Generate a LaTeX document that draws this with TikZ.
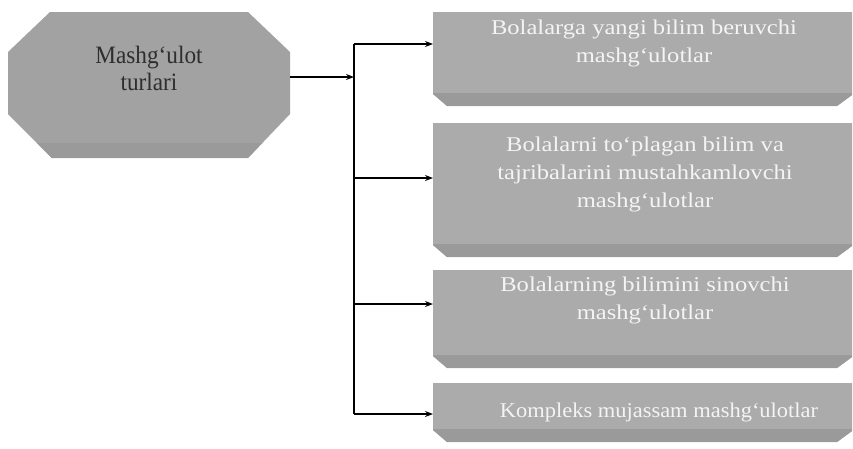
\documentclass[tikz,border=0pt]{standalone}
\usepackage{fontspec}
\setmainfont{Liberation Serif}
\newfontfamily\boxfont[FakeStretch=1.17]{Liberation Serif}
\newfontfamily\narrowfont[FakeStretch=1.07]{Liberation Serif}
\newfontfamily\octfont[FakeStretch=0.93]{Liberation Serif}
\usetikzlibrary{arrows.meta}
\definecolor{octfill}{HTML}{A2A2A2}
\definecolor{boxfill}{HTML}{ABABAB}
\definecolor{bandfill}{HTML}{9A9A9A}
\definecolor{octtext}{HTML}{2E2E2E}
\definecolor{boxtext}{HTML}{F4F4F4}
\tikzset{
  anchorbox/.style={rectangle, inner sep=0pt, outer sep=0pt, draw=none},
  octshape/.style={fill=octfill,
    path picture={\fill[bandfill] (path picture bounding box.south west) rectangle ([yshift=15pt]path picture bounding box.south east);}},
  itemshape/.style={fill=boxfill,
    path picture={\fill[bandfill] (path picture bounding box.south west) rectangle ([yshift=13pt]path picture bounding box.south east);}},
  octlabel/.style={font=\octfont\fontsize{25}{27}\selectfont, text=octtext, align=center, inner sep=0pt},
  itemlabel/.style={font=\boxfont\fontsize{21}{28}\selectfont, text=boxtext, align=center, inner sep=0pt},
  arr/.style={line width=1.2pt, -{Stealth[length=8pt,width=6pt]}},
  trunk/.style={line width=1.2pt}
}
% octagon over a named rectangle node
\newcommand\octpath[1]{%
  \path[octshape] ([xshift=42pt]#1.north west) -- ([xshift=-42pt]#1.north east)
    -- ([yshift=-40pt]#1.north east) -- ([yshift=44pt]#1.south east)
    -- ([xshift=-42pt]#1.south east) -- ([xshift=44pt]#1.south west)
    -- ([yshift=44pt]#1.south west) -- ([yshift=-40pt]#1.north west) -- cycle;}
% box with chamfered bottom corners over a named rectangle node
\newcommand\itempath[1]{%
  \path[itemshape] (#1.north west) -- (#1.north east)
    -- ([yshift=11pt]#1.south east) -- ([xshift=-15pt]#1.south east)
    -- ([xshift=14pt]#1.south west) -- ([yshift=12pt]#1.south west) -- cycle;}
\begin{document}
\begin{tikzpicture}[x=1pt,y=-1pt]
\useasboundingbox (0,0) rectangle (853,448);
\fill[white] (0,0) rectangle (853,448);
% anchor nodes for the shapes
\node[anchorbox, minimum width=282pt, minimum height=146pt] (oct) at (149,85) {};
\node[anchorbox, minimum width=419pt, minimum height=94pt] (b1) at (642.5,59) {};
\node[anchorbox, minimum width=419pt, minimum height=134pt] (b2) at (642.5,190) {};
\node[anchorbox, minimum width=419pt, minimum height=98pt] (b3) at (642.5,319) {};
\node[anchorbox, minimum width=419pt, minimum height=59pt] (b4) at (642.5,412.5) {};
\octpath{oct}
\itempath{b1}
\itempath{b2}
\itempath{b3}
\itempath{b4}
% texts
\node[octlabel] (toct) at (149,68) {Mashg‘ulot\\turlari};
\node[itemlabel] (tb1) at (644,43) {Bolalarga yangi bilim beruvchi\\mashg‘ulotlar};
\node[itemlabel] (tb2) at (645,174) {Bolalarni to‘plagan bilim va\\tajribalarini mustahkamlovchi\\mashg‘ulotlar};
\node[itemlabel] (tb3) at (645,300) {Bolalarning bilimini sinovchi\\mashg‘ulotlar};
\node[itemlabel, font=\narrowfont\fontsize{21}{28}\selectfont] (tb4) at (659,412) {Kompleks mujassam mashg‘ulotlar};
% connectors
\coordinate (j0) at (354,77);
\coordinate (j1) at (354,44);
\coordinate (j2) at (354,178);
\coordinate (j3) at (354,304);
\coordinate (j4) at (354,414);
\draw[trunk] (j1) -- (j4);
\draw[arr] (oct.east |- j0) -- (j0);
\draw[arr] (j1) -- (b1.west |- j1);
\draw[arr] (j2) -- (b2.west |- j2);
\draw[arr] (j3) -- (b3.west |- j3);
\draw[arr] (j4) -- (b4.west |- j4);
\end{tikzpicture}
\end{document}
